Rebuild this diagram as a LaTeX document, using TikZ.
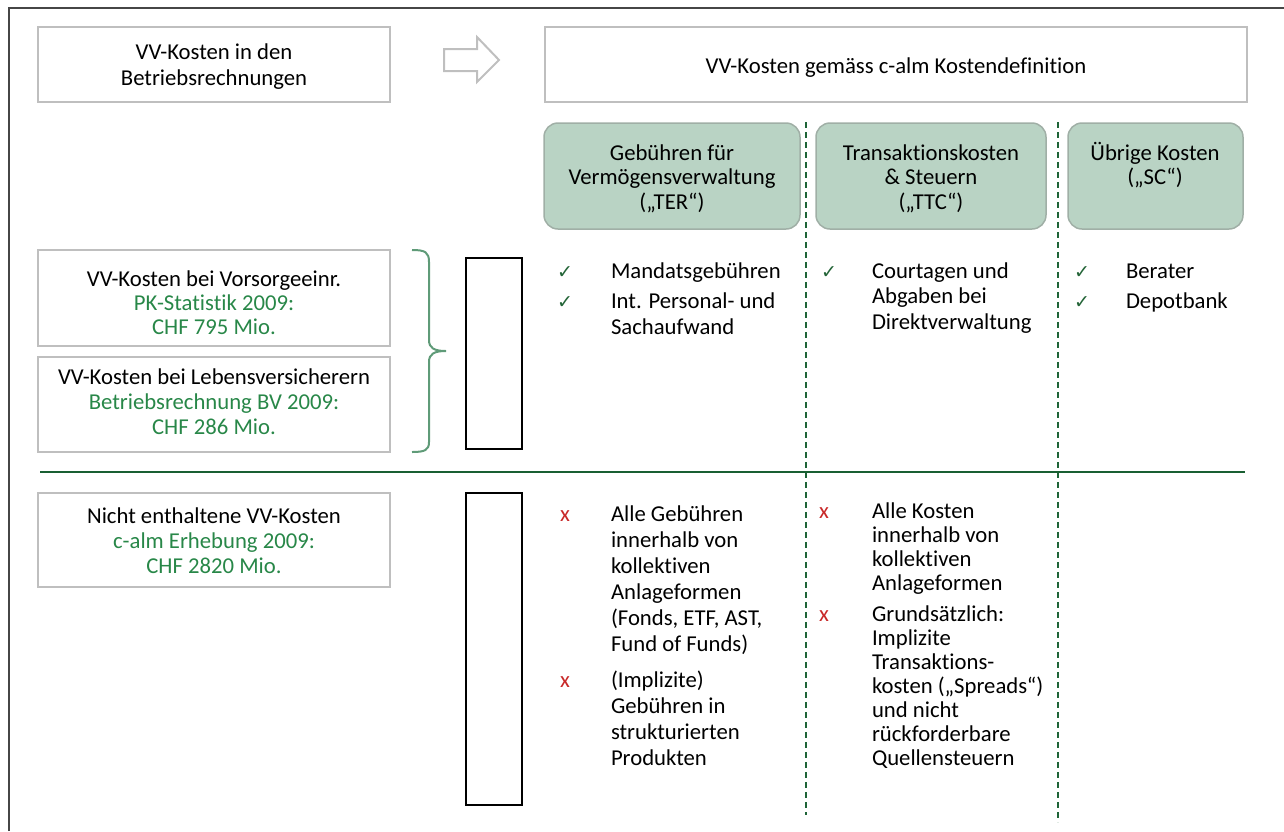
\documentclass[tikz,border=0pt]{standalone}
\usepackage{fontspec}
\setmainfont{Carlito}[Ligatures={NoCommon,NoRare,NoContextual}]
\newfontfamily\symfont{DejaVu Sans}
\definecolor{framec}{RGB}{70,70,70}
\definecolor{boxc}{RGB}{191,191,191}
\definecolor{greentxt}{RGB}{40,135,72}
\definecolor{dashc}{RGB}{30,100,55}
\definecolor{hlinec}{RGB}{25,95,50}
\definecolor{headfill}{RGB}{185,211,196}
\definecolor{headdraw}{RGB}{160,175,166}
\definecolor{bracec}{RGB}{95,155,120}
\definecolor{redx}{RGB}{200,40,40}
\definecolor{checkc}{RGB}{35,100,55}
\begin{document}
\begin{tikzpicture}[x=1pt,y=-1pt,
  every node/.style={inner sep=0pt,outer sep=0pt,font=\fontsize{22.7}{24}\selectfont},
  graybox/.style={draw=boxc,line width=2pt,anchor=north west},
  headbox/.style={draw=headdraw,fill=headfill,line width=1.5pt,rounded corners=14pt,anchor=north west},
  blackbox/.style={draw=black,line width=2pt,anchor=north west},
  ctxt/.style={anchor=base,align=center},
  ltxt/.style={anchor=base west},
  chk/.style={anchor=base,text=checkc,font=\symfont\fontsize{19}{20}\selectfont},
  xmk/.style={anchor=base,text=redx},
  sep/.style={draw=dashc,line width=2pt,dash pattern=on 6pt off 4pt}]
\useasboundingbox (0,0) rectangle (1284,831);
% frame
\draw[framec,line width=1.5pt] (9,831) -- (9,8) -- (1284,8);
% top boxes
\node[graybox,minimum width=352pt,minimum height=75pt] (boxA) at (38,27) {};
\node[ctxt] (tA1) at (214,59) {VV-Kosten in den};
\node[ctxt] (tA2) at (214,85) {Betriebsrechnungen};
\draw[boxc,line width=2pt,line join=miter] (444,49) -- (477,49) -- (477,37) -- (499,60) -- (477,82) -- (477,71) -- (444,71) -- cycle;
\node[graybox,minimum width=702pt,minimum height=75pt] (boxB) at (545,27) {};
\node[ctxt] (tB) at (896,73) {VV-Kosten gemäss c-alm Kostendefinition};
% header boxes
\node[headbox,minimum width=256pt,minimum height=106pt] (h1) at (544,123) {};
\node[headbox,minimum width=230pt,minimum height=106pt] (h2) at (816,123) {};
\node[headbox,minimum width=175pt,minimum height=106pt] (h3) at (1068,123) {};
\node[ctxt] (h1a) at (672,160) {Gebühren für};
\node[ctxt] (h1b) at (672,184) {Vermögensverwaltung};
\node[ctxt] (h1c) at (672,209) {(„TER“)};
\node[ctxt] (h2a) at (931,160) {Transaktionskosten};
\node[ctxt] (h2b) at (931,184) {\& Steuern};
\node[ctxt] (h2c) at (931,209) {(„TTC“)};
\node[ctxt] (h3a) at (1155,160) {Übrige Kosten};
\node[ctxt] (h3b) at (1155,184) {(„SC“)};
% separators
\coordinate (s1t) at (806,122); \coordinate (s1b) at (806,815);
\coordinate (s2t) at (1058,122); \coordinate (s2b) at (1058,822);
\draw[sep] (s1t) -- (s1b);
\draw[sep] (s2t) -- (s2b);
% left boxes
\node[graybox,minimum width=352pt,minimum height=96pt] (boxC) at (38,250) {};
\node[ctxt] (c1) at (214,286) {VV-Kosten bei Vorsorgeeinr.};
\node[ctxt,text=greentxt] (c2) at (214,310) {PK-Statistik 2009:};
\node[ctxt,text=greentxt] (c3) at (214,334) {CHF 795 Mio.};
\node[graybox,minimum width=352pt,minimum height=95pt] (boxD) at (38,357) {};
\node[ctxt] (d1) at (214,384) {VV-Kosten bei Lebensversicherern};
\node[ctxt,text=greentxt] (d2) at (214,409) {Betriebsrechnung BV 2009:};
\node[ctxt,text=greentxt] (d3) at (214,434) {CHF 286 Mio.};
% brace
\draw[bracec,line width=2pt] (412,250) .. controls (425,250) and (429,252) .. (429,262) -- (429,340) .. controls (429,348) and (434,351) .. (446,351) .. controls (434,351) and (429,354) .. (429,362) -- (429,442) .. controls (429,450) and (425,452) .. (412,452);
\node[blackbox,minimum width=56pt,minimum height=191pt] (r1) at (466,258) {};
% top items
\node[chk] (k1) at (565,278) {✓};
\node[ltxt] (m1) at (611,278) {Mandatsgebühren};
\node[chk] (k2) at (565,308) {✓};
\node[ltxt] (m2) at (611,308) {Int. Personal- und};
\node[ltxt] (m3) at (611,334) {Sachaufwand};
\node[chk] (k3) at (829,278) {✓};
\node[ltxt] (n1) at (872,278) {Courtagen und};
\node[ltxt] (n2) at (872,303) {Abgaben bei};
\node[ltxt] (n3) at (872,329) {Direktverwaltung};
\node[chk] (k4) at (1082,278) {✓};
\node[ltxt] (o1) at (1126,278) {Berater};
\node[chk] (k5) at (1082,308) {✓};
\node[ltxt] (o2) at (1126,308) {Depotbank};
% horizontal line
\coordinate (hl) at (40,472); \coordinate (hr) at (1245,472);
\draw[hlinec,line width=2pt] (hl) -- (hr);
% bottom
\node[graybox,minimum width=352pt,minimum height=94pt] (boxE) at (38,493) {};
\node[ctxt] (e1) at (214,523) {Nicht enthaltene VV-Kosten};
\node[ctxt,text=greentxt] (e2) at (214,548) {c-alm Erhebung 2009:};
\node[ctxt,text=greentxt] (e3) at (214,573) {CHF 2820 Mio.};
\node[blackbox,minimum width=56pt,minimum height=312pt] (r2) at (466,493) {};
\node[xmk] (x1) at (565,521) {x};
\node[xmk] (x2) at (565,687) {x};
\foreach \yy/\lbl [count=\i] in {514/Alle Gebühren,540/innerhalb von,566/kollektiven,592/Anlageformen,618/{(Fonds, ETF, AST,},644/Fund of Funds),680/(Implizite),706/Gebühren in,732/strukturierten,758/Produkten}
  \node[ltxt] (p\i) at (611,{\yy+7}) {\lbl};
\node[xmk] (x3) at (824,518) {x};
\node[xmk] (x4) at (824,621) {x};
\foreach \yy/\lbl [count=\i] in {511/Alle Kosten,535/innerhalb von,559/kollektiven,583/Anlageformen,614/Grundsätzlich:,638/Implizite,662/Transaktions-,686/kosten („Spreads“),710/und nicht,734/rückforderbare,758/Quellensteuern}
  \node[ltxt] (q\i) at (872,{\yy+7}) {\lbl};
\end{tikzpicture}
\end{document}
